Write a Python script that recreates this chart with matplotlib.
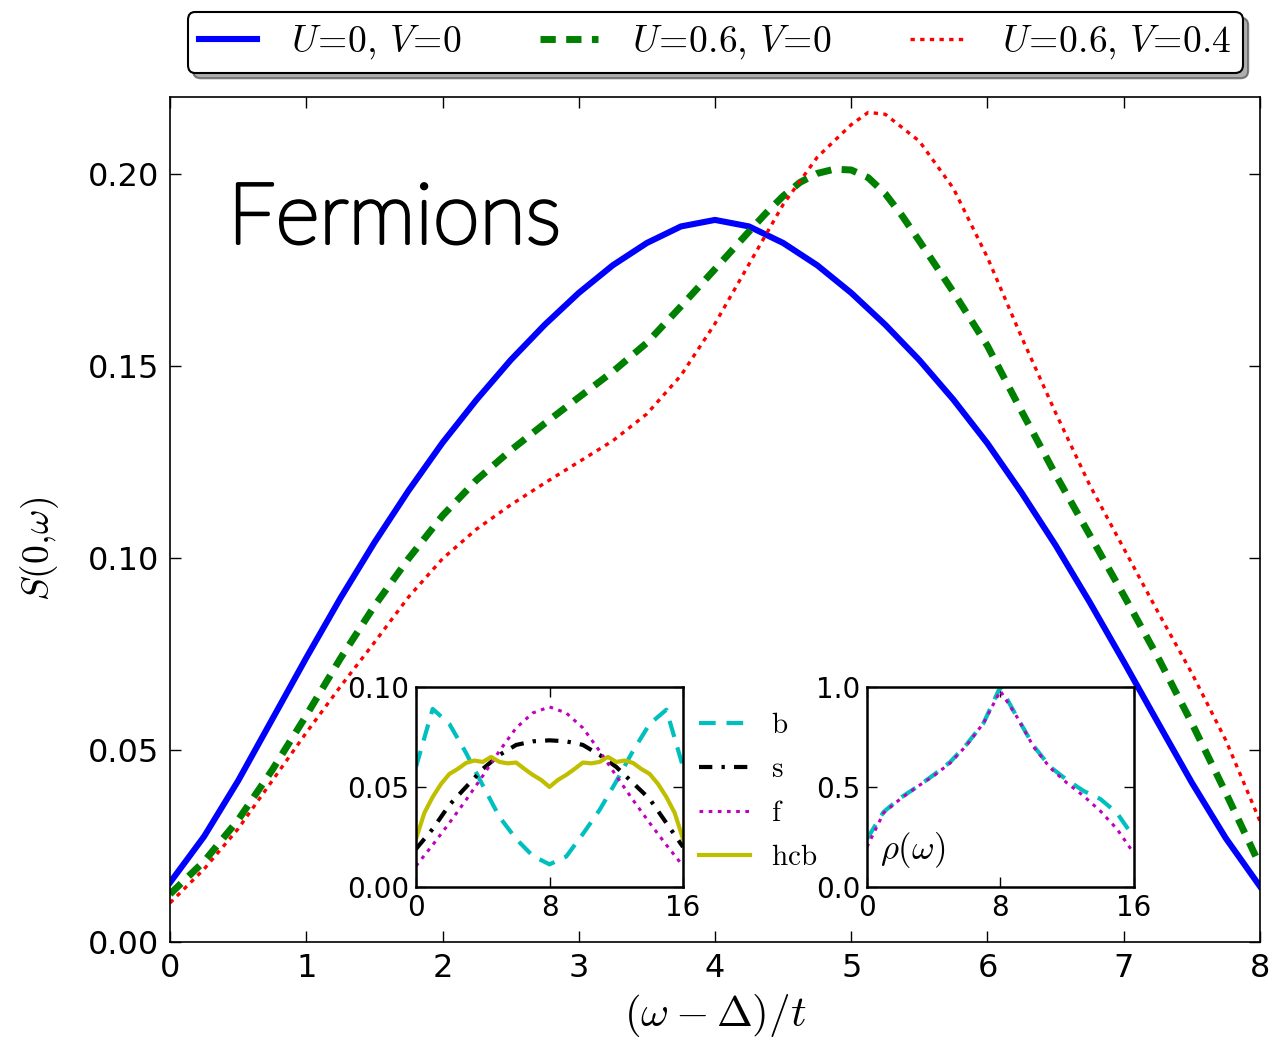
import numpy as np
import matplotlib
matplotlib.use('Agg')
import matplotlib.pyplot as plt
from matplotlib.patches import Shadow
import matplotlib.patheffects as pe

plt.rcParams['mathtext.fontset'] = 'cm'
plt.rcParams['font.family'] = ['DejaVu Sans']

# Main panel: S(0, w) against (w - Delta)/t
w_blue = [0.0, 0.25, 0.5, 0.75, 1.0, 1.25, 1.5, 1.75, 2.0, 2.25, 2.5, 2.75, 3.0,
          3.25, 3.5, 3.75, 4.0, 4.25, 4.5, 4.75, 5.0, 5.25, 5.5, 5.75, 6.0,
          6.25, 6.5, 6.75, 7.0, 7.25, 7.5, 7.75, 8.0]
s_u0_v0 = [0.0155, 0.0275, 0.0420, 0.0580, 0.0740, 0.0895, 0.1040, 0.1175, 0.1300,
           0.1412, 0.1515, 0.1607, 0.1690, 0.1762, 0.1820, 0.1863, 0.1880, 0.1863,
           0.1820, 0.1762, 0.1690, 0.1607, 0.1515, 0.1412, 0.1298, 0.1170, 0.1033,
           0.0885, 0.0730, 0.0572, 0.0415, 0.0270, 0.0145]

w_green = [0.0, 0.25, 0.5, 0.75, 1.0, 1.25, 1.5, 1.75, 2.0, 2.25, 2.5, 2.75, 3.0,
           3.25, 3.5, 3.75, 4.0, 4.25, 4.375, 4.5, 4.625, 4.75, 4.875, 5.0, 5.125,
           5.25, 5.375, 5.5, 5.75, 6.0, 6.25, 6.5, 6.75, 7.0, 7.25, 7.5, 7.75, 8.0]
s_u06_v0 = [0.0125, 0.0210, 0.0318, 0.0448, 0.0590, 0.0738, 0.0875, 0.0998, 0.1110,
            0.1203, 0.1280, 0.1350, 0.1418, 0.1485, 0.1560, 0.1655, 0.1752, 0.1850,
            0.1898, 0.1942, 0.1978, 0.2001, 0.2012, 0.2010, 0.1990, 0.1948, 0.1890,
            0.1825, 0.1692, 0.1552, 0.1382, 0.1217, 0.1060, 0.0903, 0.0742, 0.0570,
            0.0388, 0.0200]

w_red = [0.0, 0.25, 0.5, 0.75, 1.0, 1.25, 1.5, 1.75, 2.0, 2.25, 2.5, 2.75, 3.0,
         3.25, 3.5, 3.75, 4.0, 4.25, 4.5, 4.75, 5.0, 5.125, 5.25, 5.5, 5.75, 6.0,
         6.25, 6.5, 6.75, 7.0, 7.25, 7.5, 7.75, 8.0]
s_u06_v04 = [0.0102, 0.0190, 0.0295, 0.0420, 0.0545, 0.0665, 0.0780, 0.0898, 0.0998,
             0.1075, 0.1138, 0.1195, 0.1250, 0.1305, 0.1375, 0.1475, 0.1610, 0.1765,
             0.1920, 0.2043, 0.2128, 0.2160, 0.2155, 0.2085, 0.1962, 0.1782, 0.1575,
             0.1378, 0.1190, 0.1025, 0.0860, 0.0700, 0.0525, 0.0315]

# Left inset: S per species on a 16-site lattice
k_int = list(range(17))
s_b = [0.060, 0.0890, 0.0815, 0.0670, 0.0508, 0.0350, 0.0240, 0.0155, 0.0113,
       0.0152, 0.0265, 0.0385, 0.0528, 0.0680, 0.0815, 0.0886, 0.060]
s_s = [0.019, 0.029, 0.041, 0.050, 0.059, 0.066, 0.071, 0.0728, 0.0733,
       0.0728, 0.071, 0.066, 0.060, 0.052, 0.044, 0.032, 0.020]
s_f = [0.0105, 0.021, 0.032, 0.0435, 0.0555, 0.068, 0.0795, 0.087, 0.0900,
       0.087, 0.0795, 0.068, 0.0555, 0.0435, 0.032, 0.021, 0.0105]
k_half = [0.0, 0.5, 1.0, 1.5, 2.0, 2.5, 3.0, 3.5, 4.0, 4.5, 5.0, 5.5, 6.0, 6.5, 7.0,
          7.5, 8.0, 8.5, 9.0, 9.5, 10.0, 10.5, 11.0, 11.5, 12.0, 12.5, 13.0, 13.5,
          14.0, 14.5, 15.0, 15.5, 16.0]
s_hcb = [0.024, 0.037, 0.045, 0.0515, 0.0565, 0.0590, 0.0620, 0.0632, 0.0625, 0.0650,
         0.0625, 0.0618, 0.0622, 0.0590, 0.0560, 0.0535, 0.0500, 0.0535, 0.0560,
         0.0590, 0.0622, 0.0618, 0.0625, 0.0650, 0.0625, 0.0632, 0.0620, 0.0590,
         0.0565, 0.0515, 0.045, 0.037, 0.024]

# Right inset: density of states
rho_b = [0.24, 0.375, 0.445, 0.500, 0.560, 0.625, 0.715, 0.82, 1.0,
         0.85, 0.705, 0.60, 0.535, 0.48, 0.44, 0.37, 0.25]
rho_f = [0.20, 0.37, 0.44, 0.50, 0.555, 0.62, 0.71, 0.82, 0.98,
         0.85, 0.70, 0.595, 0.52, 0.455, 0.38, 0.29, 0.17]

fig = plt.figure(figsize=(12.71, 10.43), dpi=100)
ax = fig.add_axes([0.1338, 0.0968, 0.8575, 0.8102])

l1, = ax.plot(w_blue, s_u0_v0, color='b', lw=4.4)
l2, = ax.plot(w_green, s_u06_v0, color='g', lw=5, linestyle=(0, (2.2, 1.5)))
l3, = ax.plot(w_red, s_u06_v04, color='r', lw=2.4, linestyle=(0, (1.3, 1.6)))

ax.set_xlim(0, 8)
ax.set_ylim(0, 0.22)
ax.set_xticks(range(9))
ax.set_yticks([0.0, 0.05, 0.10, 0.15, 0.20])
ax.set_yticklabels(['0.00', '0.05', '0.10', '0.15', '0.20'])
ax.tick_params(direction='in', top=True, right=True, length=8, width=1,
               labelsize=23, pad=8)
for sp in ax.spines.values():
    sp.set_linewidth(1.2)
ax.set_xlabel(r'$(\omega-\Delta)/t$', fontsize=31, labelpad=6)
ax.set_ylabel(r'$S(0,\!\omega)$', fontsize=27)
ax.yaxis.set_label_coords(-0.1, 0.465)

ax.text(0.053, 0.827, 'Fermions', transform=ax.transAxes, fontsize=61,
        family=['Lato', 'DejaVu Sans'], weight='light', va='baseline', ha='left',
        path_effects=[pe.withStroke(linewidth=2.6, foreground='black')])

leg = fig.legend([l1, l2, l3],
                 [r'$U\!=\!0,\,V\!=\!0$', r'$U\!=\!0.6,\,V\!=\!0$', r'$U\!=\!0.6,\,V\!=\!0.4$'],
                 loc='center', bbox_to_anchor=(0.5626, 0.9593), ncol=3,
                 fontsize=27, handlelength=1.55, columnspacing=2.1, handletextpad=0.9,
                 fancybox=True, framealpha=1, edgecolor='k', borderpad=0.3)
leg.get_frame().set_linewidth(1.5)

# left inset
axl = fig.add_axes([0.3273, 0.1496, 0.2101, 0.1918])
axl.plot(k_int, s_b, color='c', lw=3, linestyle=(0, (4, 2.6)), label=r'$\mathrm{b}$')
axl.plot(k_int, s_s, color='k', lw=3, linestyle=(0, (3.2, 2.2, 0.8, 2.2)), label=r'$\mathrm{s}$')
axl.plot(k_int, s_f, color='m', lw=2.2, linestyle=(0, (1.2, 1.8)), label=r'$\mathrm{f}$')
axl.plot(k_half, s_hcb, color='y', lw=3, label=r'$\mathrm{hcb}$')
axl.set_xlim(0, 16)
axl.set_ylim(0, 0.10)
axl.set_xticks([0, 8, 16])
axl.set_yticks([0.0, 0.05, 0.10])
axl.set_yticklabels(['0.00', '0.05', '0.10'])
axl.tick_params(direction='in', top=True, right=True, length=7, width=1,
                labelsize=20, pad=5)
for sp in axl.spines.values():
    sp.set_linewidth(1.8)
axl.legend(loc='center left', bbox_to_anchor=(1.0, 0.48), frameon=False,
           fontsize=21, handlelength=1.75, handletextpad=0.7, labelspacing=0.55,
           borderaxespad=0.15)

# right inset
axr = fig.add_axes([0.6821, 0.1496, 0.2098, 0.1918])
axr.plot(k_int, rho_b, color='c', lw=3, linestyle=(0, (4, 2.6)))
axr.plot(k_int, rho_f, color='m', lw=2.2, linestyle=(0, (1.2, 1.8)))
axr.set_xlim(0, 16)
axr.set_ylim(0, 1.0)
axr.set_xticks([0, 8, 16])
axr.set_yticks([0.0, 0.5, 1.0])
axr.set_yticklabels(['0.0', '0.5', '1.0'])
axr.tick_params(direction='in', top=True, right=True, length=7, width=1,
                labelsize=20, pad=5)
for sp in axr.spines.values():
    sp.set_linewidth(1.8)
axr.text(0.05, 0.14, r'$\rho(\omega)$', transform=axr.transAxes, fontsize=25,
         va='baseline', ha='left')

# drop shadow behind the top legend
fig.canvas.draw()
sh = Shadow(leg.legendPatch, 4, -4)
sh.set_zorder(leg.get_zorder() - 0.1)
sh.set_facecolor('0.55')
sh.set_alpha(0.7)
fig.add_artist(sh)

fig.savefig('out.png', dpi=100)
